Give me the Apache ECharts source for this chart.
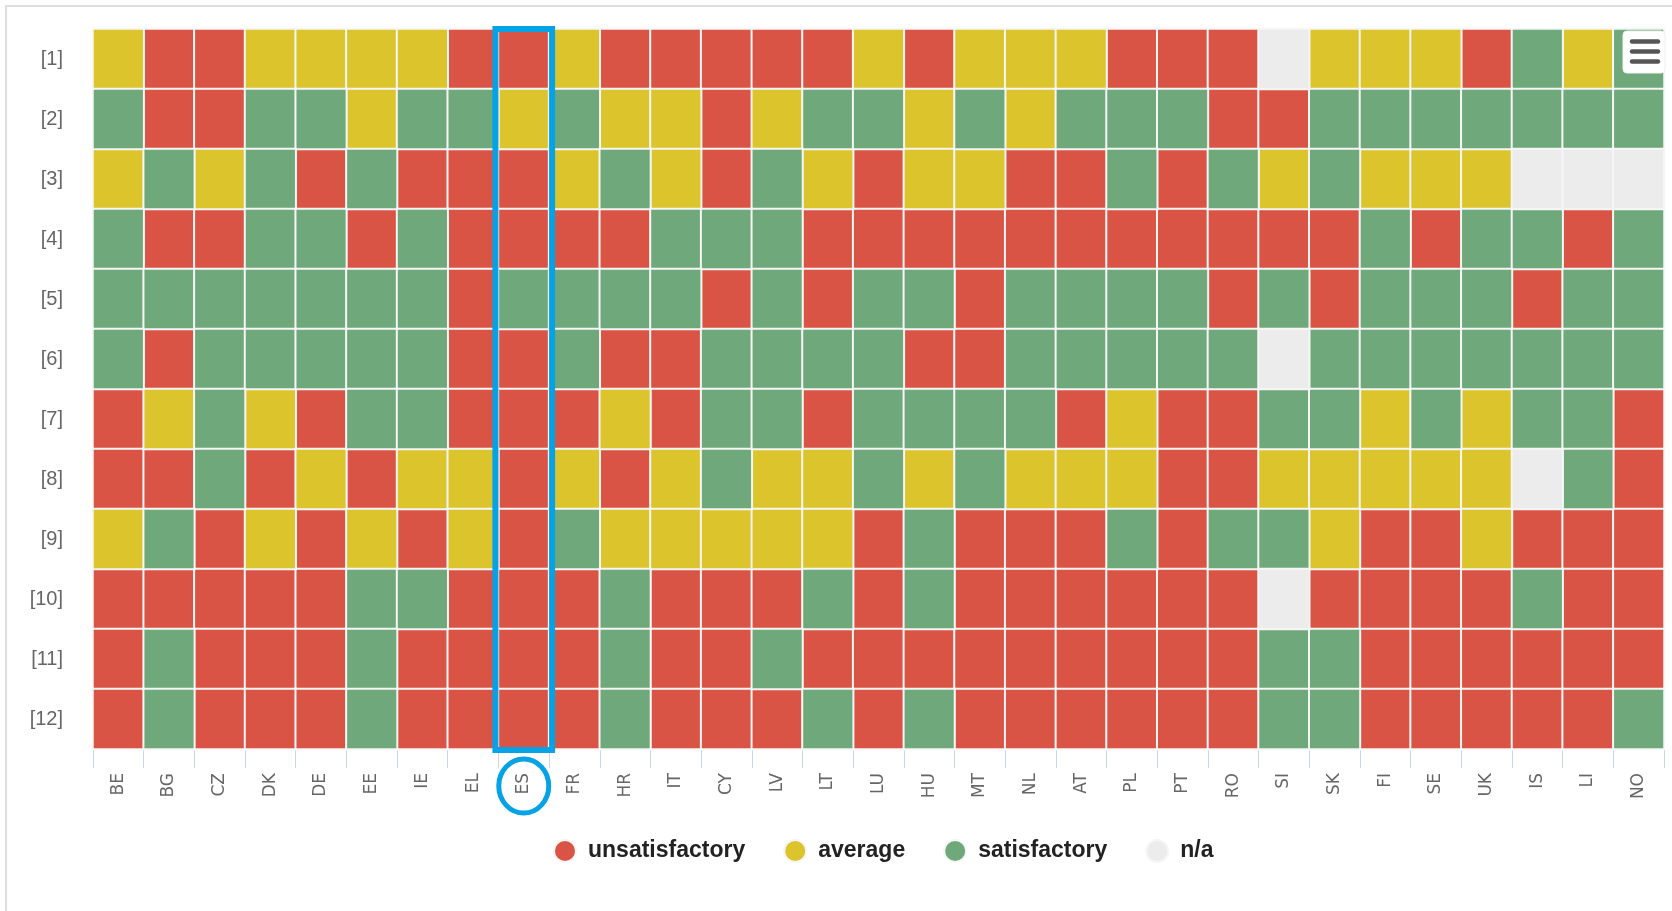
<!DOCTYPE html>
<html>
<head>
<meta charset="utf-8">
<script src="https://cdn.jsdelivr.net/npm/echarts@6/dist/echarts.min.js"></script>
<style>
html,body{margin:0;padding:0;background:#fff;}
#chart{width:1672px;height:911px;}
</style>
</head>
<body>
<div id="chart"></div>
<script>
// Categories
const countries = ['BE','BG','CZ','DK','DE','EE','IE','EL','ES','FR','HR','IT','CY','LV','LT','LU','HU','MT','NL','AT','PL','PT','RO','SI','SK','FI','SE','UK','IS','LI','NO'];
const rowLabels = ['[1]','[2]','[3]','[4]','[5]','[6]','[7]','[8]','[9]','[10]','[11]','[12]'];
// R = unsatisfactory, Y = average, G = satisfactory, N = n/a
const row1  = ['Y','R','R','Y','Y','Y','Y','R','R','Y','R','R','R','R','R','Y','R','Y','Y','Y','R','R','R','N','Y','Y','Y','R','G','Y','G'];
const row2  = ['G','R','R','G','G','Y','G','G','Y','G','Y','Y','R','Y','G','G','Y','G','Y','G','G','G','R','R','G','G','G','G','G','G','G'];
const row3  = ['Y','G','Y','G','R','G','R','R','R','Y','G','Y','R','G','Y','R','Y','Y','R','R','G','R','G','Y','G','Y','Y','Y','N','N','N'];
const row4  = ['G','R','R','G','G','R','G','R','R','R','R','G','G','G','R','R','R','R','R','R','R','R','R','R','R','G','R','G','G','R','G'];
const row5  = ['G','G','G','G','G','G','G','R','G','G','G','G','R','G','R','G','G','R','G','G','G','G','R','G','R','G','G','G','R','G','G'];
const row6  = ['G','R','G','G','G','G','G','R','R','G','R','R','G','G','G','G','R','R','G','G','G','G','G','N','G','G','G','G','G','G','G'];
const row7  = ['R','Y','G','Y','R','G','G','R','R','R','Y','R','G','G','R','G','G','G','G','R','Y','R','R','G','G','Y','G','Y','G','G','R'];
const row8  = ['R','R','G','R','Y','R','Y','Y','R','Y','R','Y','G','Y','Y','G','Y','G','Y','Y','Y','R','R','Y','Y','Y','Y','Y','N','G','R'];
const row9  = ['Y','G','R','Y','R','Y','R','Y','R','G','Y','Y','Y','Y','Y','R','G','R','R','R','G','R','G','G','Y','R','R','Y','R','R','R'];
const row10 = ['R','R','R','R','R','G','G','R','R','R','G','R','R','R','G','R','G','R','R','R','R','R','R','N','R','R','R','R','G','R','R'];
const row11 = ['R','G','R','R','R','G','R','R','R','R','G','R','R','G','R','R','R','R','R','R','R','R','R','G','G','R','R','R','R','R','R'];
const row12 = ['R','G','R','R','R','G','R','R','R','R','G','R','R','R','G','R','G','R','R','R','R','R','R','G','G','R','R','R','R','R','G'];
const rows = [row1,row2,row3,row4,row5,row6,row7,row8,row9,row10,row11,row12];
const statusCodes = ['R','Y','G','N'];
const statusNames = ['unsatisfactory','average','satisfactory','n/a'];
const statusColors = ['#da5446','#dbc42c','#6fa87b','#ececec'];
const highlighted = 'ES';

const chart = echarts.init(document.getElementById('chart'), null, {renderer:'canvas'});

const series = statusCodes.map((code, k) => {
  const data = [];
  rows.forEach((r, yi) => r.forEach((v, xi) => { if (v === code) data.push([xi, yi, 1]); }));
  return {
    name: statusNames[k],
    type: 'heatmap',
    data: data,
    itemStyle: { color: statusColors[k], borderColor: '#f6f6f6', borderWidth: 2 },
    emphasis: { disabled: true },
    animation: false
  };
});

const ellipseIcon = 'path://M50 0A50 50 0 1 1 50 100A50 50 0 1 1 50 0Z';

chart.setOption({
  animation: false,
  grid: { left: 93, right: 8, top: 29, bottom: 162 },
  xAxis: {
    type: 'category',
    data: countries,
    axisLine: { show: true, lineStyle: { color: '#ccd6eb', width: 1 } },
    axisTick: { show: true, length: 19, lineStyle: { color: '#ccd6eb' } },
    axisLabel: { rotate: 90, margin: 24, color: '#666', fontSize: 17, fontFamily: 'DejaVu Sans' },
    splitLine: { show: false }
  },
  yAxis: {
    type: 'category',
    data: rowLabels,
    inverse: true,
    axisLine: { show: false },
    axisTick: { show: false },
    axisLabel: { margin: 30, color: '#666', fontSize: 20, fontFamily: 'Liberation Sans, sans-serif' },
    splitLine: { show: false }
  },
  legend: {
    left: 553,
    top: 839,
    padding: 0,
    itemWidth: 22,
    itemHeight: 24,
    itemGap: 38,
    icon: ellipseIcon,
    data: statusNames,
    selectedMode: false,
    textStyle: { fontFamily: 'Liberation Sans, sans-serif', fontWeight: 'bold', fontSize: 23, color: '#222', padding: [0,0,0,7] }
  },
  series: series
});

// Annotation overlays placed through the axes' own scales
const hi = countries.indexOf(highlighted);
const pTop = chart.convertToPixel({xAxisIndex:0, yAxisIndex:0}, [hi, 0]);
const pNext = chart.convertToPixel({xAxisIndex:0, yAxisIndex:0}, [hi + 1, 1]);
const pBot = chart.convertToPixel({xAxisIndex:0, yAxisIndex:0}, [hi, rowLabels.length - 1]);
const cellW = pNext[0] - pTop[0];
const cellH = pNext[1] - pTop[1];
const gridTop = pTop[1] - cellH / 2;
const gridBottom = pBot[1] + cellH / 2;
const blue = '#05a2e6';

chart.setOption({
  graphic: [
    { type: 'rect', silent: true, z: -10, shape: { x: 6, y: 6, width: 1700, height: 950 }, style: { fill: 'none', stroke: '#dedede', lineWidth: 2 } },
    { type: 'rect', silent: true, z: 100, shape: { x: pTop[0] - cellW / 2 - 3, y: gridTop, width: cellW + 6, height: gridBottom - gridTop + 1 }, style: { fill: 'none', stroke: blue, lineWidth: 6 } },
    { type: 'ellipse', silent: true, z: 100, shape: { cx: pTop[0], cy: gridBottom + 37, rx: 25, ry: 27 }, style: { fill: 'none', stroke: blue, lineWidth: 5 } },
    { type: 'rect', silent: true, z: 90, shape: { x: 1623, y: 31, width: 42, height: 42, r: 4 }, style: { fill: '#ffffff', stroke: '#f0f0f0', lineWidth: 1 } },
    { type: 'line', silent: true, z: 95, shape: { x1: 1632, y1: 41.5, x2: 1658, y2: 41.5 }, style: { stroke: '#555', lineWidth: 4.5, lineCap: 'round' } },
    { type: 'line', silent: true, z: 95, shape: { x1: 1632, y1: 51.5, x2: 1658, y2: 51.5 }, style: { stroke: '#555', lineWidth: 4.5, lineCap: 'round' } },
    { type: 'line', silent: true, z: 95, shape: { x1: 1632, y1: 61.5, x2: 1658, y2: 61.5 }, style: { stroke: '#555', lineWidth: 4.5, lineCap: 'round' } }
  ]
});
</script>
</body>
</html>
